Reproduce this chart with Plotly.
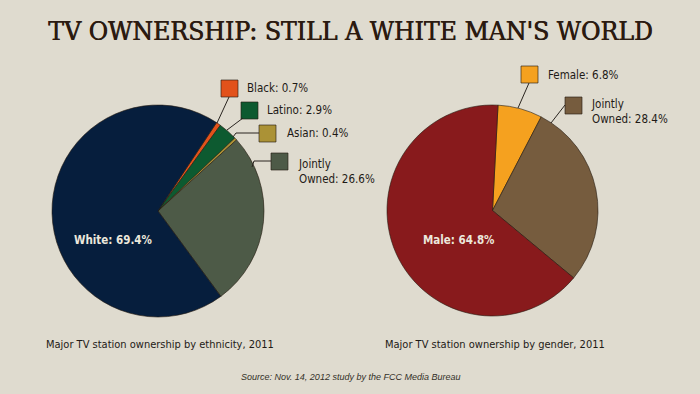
import plotly.graph_objects as go

W, H = 700, 394

# ---- data ----
eth_labels = ["Black", "Latino", "Asian", "Jointly Owned", "White"]
eth_values = [0.7, 2.9, 0.4, 26.6, 69.4]
eth_colors = ["#e2521b", "#0d5a30", "#ab9236", "#4d5a47", "#061e3d"]

gen_labels = ["Female", "Jointly Owned", "Male"]
gen_values = [6.8, 28.4, 64.8]
gen_colors = ["#f5a11f", "#765c3e", "#881a1c"]

title_text = "TV OWNERSHIP: STILL A WHITE MAN'S WORLD"
sub_eth = "Major TV station ownership by ethnicity, 2011"
sub_gen = "Major TV station ownership by gender, 2011"
source_text = "Source: Nov. 14, 2012 study by the FCC Media Bureau"

BG = "#dfdbcf"
NARROW = "Liberation Sans Narrow, DejaVu Sans Condensed, Arial Narrow, sans-serif"


def px(x):
    return x / W


def py(y):
    return 1 - y / H


fig = go.Figure()

# left pie: centre (158,211) r 106
fig.add_trace(go.Pie(
    labels=eth_labels, values=eth_values, sort=False, direction="clockwise",
    rotation=33.5, textinfo="none", hoverinfo="label+percent",
    marker=dict(colors=eth_colors, line=dict(color="rgba(35,25,15,0.75)", width=0.8)),
    domain=dict(x=[px(52), px(264)], y=[py(317), py(105)]),
    showlegend=False,
))
# right pie: centre (492.5,210.5) r 105.5
fig.add_trace(go.Pie(
    labels=gen_labels, values=gen_values, sort=False, direction="clockwise",
    rotation=3, textinfo="none", hoverinfo="label+percent",
    marker=dict(colors=gen_colors, line=dict(color="rgba(35,25,15,0.75)", width=0.8)),
    domain=dict(x=[px(387), px(598)], y=[py(316), py(105)]),
    showlegend=False,
))

shapes = []
annotations = []


def text_ann(x, y, text, size, color, family=NARROW, xanchor="center", shadow=None):
    font = dict(family=family, size=size, color=color)
    if shadow:
        font["shadow"] = shadow
    annotations.append(dict(x=px(x), y=py(y), xref="paper", yref="paper",
                            text=text, showarrow=False, xanchor=xanchor,
                            yanchor="middle", align="left", font=font))


def callout(color, sq_x, sq_y, text, tx, ty, line_pts):
    shapes.append(dict(type="rect", xref="paper", yref="paper",
                       x0=px(sq_x), x1=px(sq_x + 17), y0=py(sq_y + 17), y1=py(sq_y),
                       fillcolor=color, line=dict(color="rgba(40,30,20,0.8)", width=0.8)))
    for (x0, y0), (x1, y1) in zip(line_pts[:-1], line_pts[1:]):
        shapes.append(dict(type="line", xref="paper", yref="paper",
                           x0=px(x0), y0=py(y0), x1=px(x1), y1=py(y1),
                           line=dict(color="#2a2520", width=1)))
    text_ann(tx, ty, text, 11.5, "#1e1a16", xanchor="left")


# ethnicity callouts
callout(eth_colors[0], 221, 80, "Black: 0.7%", 245, 88, [(229, 97), (217, 123)])
callout(eth_colors[1], 241, 102, "Latino: 2.9%", 265, 110, [(243, 118), (227, 130)])
callout(eth_colors[2], 259, 125, "Asian: 0.4%", 285, 133, [(259, 133), (236, 133), (233, 137)])
callout(eth_colors[3], 271, 153, "Jointly<br>Owned: 26.6%", 296, 171,
        [(271, 161), (254, 161), (252, 167)])
# gender callouts
callout(gen_colors[0], 521, 66, "Female: 6.8%", 546, 75, [(529, 83), (518, 108)])
callout(gen_colors[1], 565, 97, "Jointly<br>Owned: 28.4%", 589, 112, [(565, 105), (551, 123)])

# inside labels
text_ann(113, 240, "<b>White: 69.4%</b>", 11.5, "#ece8dc")
text_ann(459, 240, "<b>Male: 64.8%</b>", 11.5, "#ece8dc")

# title
text_ann(350, 31, title_text, 26.3, "#2b1a10",
         family="DejaVu Serif Condensed, DejaVu Serif, serif",
         shadow="0.6px 0px 0px #2b1a10")
# subtitles
text_ann(44, 344, sub_eth, 11, "#1e1a16", xanchor="left")
text_ann(383, 344, sub_gen, 11, "#1e1a16", xanchor="left")
# source
text_ann(350, 377, "<i>" + source_text + "</i>", 9, "#333028",
         family="Liberation Sans, Arial, sans-serif")

fig.update_layout(
    width=W, height=H, margin=dict(l=0, r=0, t=0, b=0),
    paper_bgcolor=BG, plot_bgcolor=BG,
    shapes=shapes, annotations=annotations,
)

fig.write_html("out.html", config={"displayModeBar": False},
               post_script="document.body.style.margin='0';")
